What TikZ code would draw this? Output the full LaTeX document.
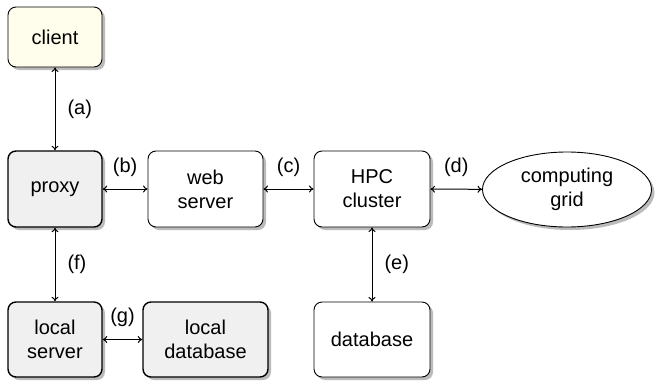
\documentclass[tikz,border=0pt]{standalone}
\usepackage{fontspec}
\setmainfont{Liberation Sans}
\usetikzlibrary{shadows,shapes.geometric,arrows.meta}
\definecolor{clientfill}{HTML}{FFFDEB}
\definecolor{grayfill}{HTML}{F0F0F0}
\definecolor{shadowgray}{HTML}{BBBBBB}
\begin{document}
\begin{tikzpicture}[x=1pt,y=-1pt,
  font=\fontsize{20}{24}\selectfont,
  box/.style={draw,rounded corners=8pt,align=center,line width=0.9pt,inner sep=2pt,
    drop shadow={shadow xshift=3pt,shadow yshift=-3pt,fill=shadowgray,opacity=1},
    fill=white},
  grayb/.style={box,fill=grayfill,line width=1.4pt},
  conn/.style={{To[length=4.5pt,width=7pt]}-{To[length=4.5pt,width=7pt]},line width=1pt},
  lbl/.style={inner sep=0pt}]
\useasboundingbox (0,0) rectangle (656,383);
\node[box,fill=clientfill,minimum width=94pt,minimum height=60pt] (client) at (55,37) {client};
\node[grayb,minimum width=94pt,minimum height=76pt] (proxy) at (55,189) {proxy};
\node[box,minimum width=115pt,minimum height=76pt] (web) at (205.5,189) {web\\server};
\node[box,minimum width=116pt,minimum height=76pt] (hpc) at (372,189) {HPC\\cluster};
\node[draw,ellipse,line width=0.9pt,fill=white,minimum width=169pt,minimum height=75pt,align=center,inner sep=2pt,
  drop shadow={shadow xshift=3pt,shadow yshift=-3pt,fill=shadowgray,opacity=1}] (grid) at (567,189.5) {computing\\grid};
\node[grayb,minimum width=94pt,minimum height=75pt] (ls) at (55,339.5) {local\\server};
\node[grayb,minimum width=125pt,minimum height=75pt] (ldb) at (205.5,339.5) {local\\database};
\node[box,minimum width=116pt,minimum height=75pt] (db) at (372,339.5) {database};
\draw[conn] (client) -- (proxy) node[lbl,midway,right=12pt] (la) {(a)};
\draw[conn] (proxy) -- (web) node[lbl,midway,above=12pt] (lb) {(b)};
\draw[conn] (web) -- (hpc) node[lbl,midway,above=12pt] (lc) {(c)};
\draw[conn] (hpc) -- (grid) node[lbl,midway,above=12pt] (ld) {(d)};
\draw[conn] (hpc) -- (db) node[lbl,midway,right=12pt] (le) {(e)};
\draw[conn] (proxy) -- (ls) node[lbl,midway,right=12pt] (lf) {(f)};
\draw[conn] (ls) -- (ldb) node[lbl,midway,above=12pt] (lg) {(g)};
\end{tikzpicture}
\end{document}
